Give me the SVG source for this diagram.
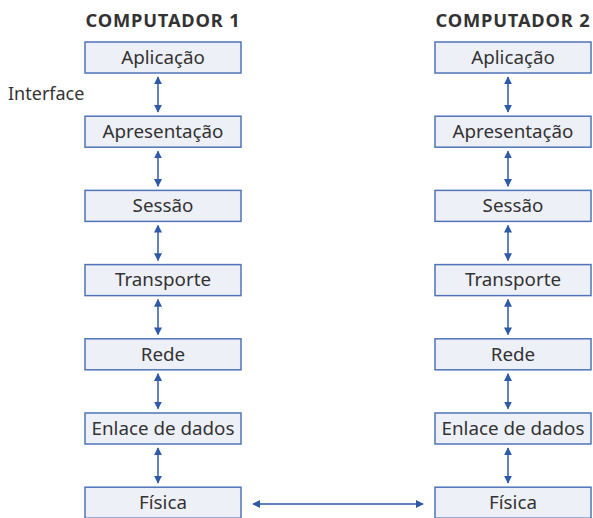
<svg xmlns="http://www.w3.org/2000/svg" width="593" height="518" viewBox="0 0 593 518">
<defs>
<style>
.box{fill:#eef0f8;stroke:#4f74b8;stroke-width:1.5}
.lbl{font-family:"Noto Sans",sans-serif;font-size:18.8px;fill:#333;text-anchor:middle}
.ttl{font-family:"Noto Sans",sans-serif;font-size:18.3px;font-weight:bold;fill:#333;text-anchor:middle;letter-spacing:0.8px}
.side{font-family:"Noto Sans",sans-serif;font-size:18px;fill:#333}
.arr{stroke:#2f5aa8;stroke-width:1.5;fill:none;marker-start:url(#ah);marker-end:url(#ah)}
</style>
<marker id="ah" viewBox="0 0 10 10" refX="9" refY="5" markerWidth="8" markerHeight="8" markerUnits="userSpaceOnUse" orient="auto-start-reverse">
<path d="M0,0 L10,5 L0,10 z" fill="#2f5aa8"/>
</marker>
</defs>
<text class="ttl" x="163" y="27">COMPUTADOR 1</text>
<text class="ttl" x="513" y="27">COMPUTADOR 2</text>
<text class="side" x="8" y="100">Interface</text>
<g id="c1-aplicacao"><rect class="box" x="85" y="42" width="156" height="31"/><text class="lbl" x="163" y="63.8">Aplicação</text></g>
<g id="c1-apresentacao"><rect class="box" x="85" y="116.2" width="156" height="31"/><text class="lbl" x="163" y="138">Apresentação</text></g>
<g id="c1-sessao"><rect class="box" x="85" y="190.4" width="156" height="31"/><text class="lbl" x="163" y="212.2">Sessão</text></g>
<g id="c1-transporte"><rect class="box" x="85" y="264.6" width="156" height="31"/><text class="lbl" x="163" y="286.4">Transporte</text></g>
<g id="c1-rede"><rect class="box" x="85" y="338.8" width="156" height="31"/><text class="lbl" x="163" y="360.6">Rede</text></g>
<g id="c1-enlace"><rect class="box" x="85" y="413" width="156" height="31"/><text class="lbl" x="163" y="434.8">Enlace de dados</text></g>
<g id="c1-fisica"><rect class="box" x="85" y="487.2" width="156" height="31"/><text class="lbl" x="163" y="509">Física</text></g>
<g id="c2-aplicacao"><rect class="box" x="435" y="42" width="156" height="31"/><text class="lbl" x="513" y="63.8">Aplicação</text></g>
<g id="c2-apresentacao"><rect class="box" x="435" y="116.2" width="156" height="31"/><text class="lbl" x="513" y="138">Apresentação</text></g>
<g id="c2-sessao"><rect class="box" x="435" y="190.4" width="156" height="31"/><text class="lbl" x="513" y="212.2">Sessão</text></g>
<g id="c2-transporte"><rect class="box" x="435" y="264.6" width="156" height="31"/><text class="lbl" x="513" y="286.4">Transporte</text></g>
<g id="c2-rede"><rect class="box" x="435" y="338.8" width="156" height="31"/><text class="lbl" x="513" y="360.6">Rede</text></g>
<g id="c2-enlace"><rect class="box" x="435" y="413" width="156" height="31"/><text class="lbl" x="513" y="434.8">Enlace de dados</text></g>
<g id="c2-fisica"><rect class="box" x="435" y="487.2" width="156" height="31"/><text class="lbl" x="513" y="509">Física</text></g>
<g id="connectors">
<line class="arr" x1="158" y1="77" x2="158" y2="112"/>
<line class="arr" x1="158" y1="151.2" x2="158" y2="186.2"/>
<line class="arr" x1="158" y1="225.4" x2="158" y2="260.4"/>
<line class="arr" x1="158" y1="299.6" x2="158" y2="334.6"/>
<line class="arr" x1="158" y1="373.8" x2="158" y2="408.8"/>
<line class="arr" x1="158" y1="448" x2="158" y2="483"/>
<line class="arr" x1="508" y1="77" x2="508" y2="112"/>
<line class="arr" x1="508" y1="151.2" x2="508" y2="186.2"/>
<line class="arr" x1="508" y1="225.4" x2="508" y2="260.4"/>
<line class="arr" x1="508" y1="299.6" x2="508" y2="334.6"/>
<line class="arr" x1="508" y1="373.8" x2="508" y2="408.8"/>
<line class="arr" x1="508" y1="448" x2="508" y2="483"/>
<line class="arr" x1="253" y1="504" x2="423" y2="504"/>
</g>
</svg>
